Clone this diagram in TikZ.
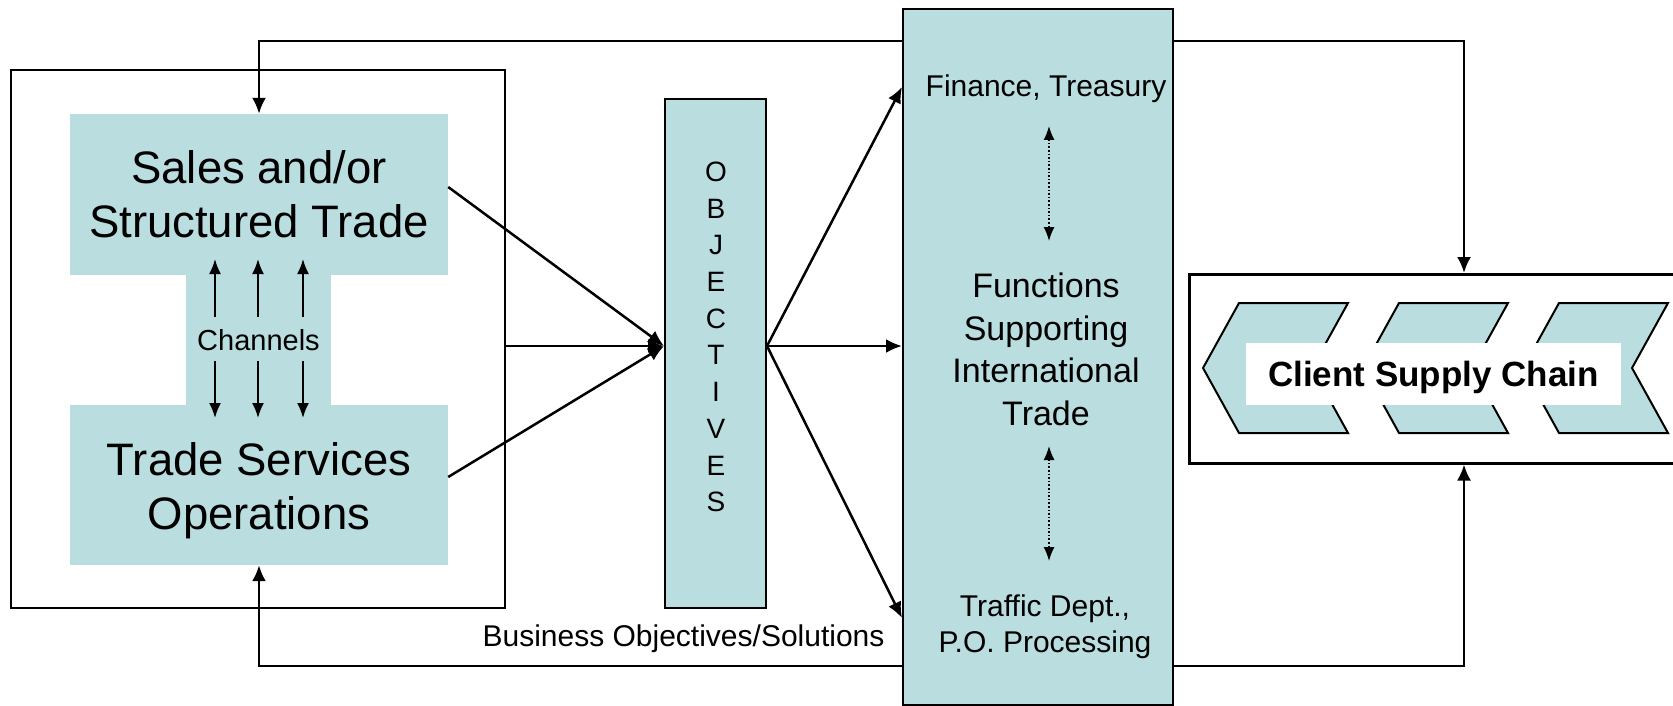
\documentclass[tikz,border=0pt]{standalone}
\usepackage{fontspec}
\setmainfont{Liberation Sans}
\usetikzlibrary{arrows.meta}
\definecolor{paleteal}{RGB}{186,221,223}
\begin{document}
\begin{tikzpicture}[x=1pt,y=-1pt,
  fillbox/.style={fill=paleteal,draw=none,inner sep=0pt,rectangle},
  edgebox/.style={fill=paleteal,draw=black,line width=2pt,inner sep=0pt,rectangle},
  frame/.style={draw=black,line width=2.5pt,inner sep=0pt,rectangle},
  conn/.style={line width=2.5pt},
  arrowline/.style={conn,-{Latex[length=16pt,width=14pt]}},
  chanarrow/.style={line width=2pt,-{Latex[length=15pt,width=12pt]}},
  dotarrow/.style={line width=1.6pt,dotted,{Latex[length=14pt,width=11pt]}-{Latex[length=14pt,width=11pt]}},
  chev/.style={fill=paleteal,draw=black,line width=2pt,line join=miter},
  bigtext/.style={font=\fontsize{45.5}{54}\selectfont,align=center},
  midtext/.style={font=\fontsize{34}{42.5}\selectfont,align=center},
  smalltext/.style={font=\fontsize{30}{36}\selectfont,align=center},
]
\useasboundingbox (0,0) rectangle (1673,706);
\clip (0,0) rectangle (1673,706);
\fill[white] (0,0) rectangle (1673,706);

% helper rows and columns for the loops
\coordinate (ytop) at (0,41);
\coordinate (ybot) at (0,666);
\coordinate (ymid) at (0,346);
\coordinate (xloop) at (1464,0);

% left block: sales / channels / operations
\node[frame,minimum width=494pt,minimum height=538pt] (outer) at (258,339) {};
\node[fillbox,minimum width=145pt,minimum height=134pt,font=\fontsize{29}{34}\selectfont] (chan) at (258.5,340) {Channels};
\node[fillbox,bigtext,minimum width=378pt,minimum height=161pt] (sales) at (259,194.5) {Sales and/or\\Structured Trade};
\node[fillbox,minimum width=378pt,minimum height=160pt] (tso) at (259,485) {};
\node[bigtext] (tsotext) at (259,490.5) {Trade Services\\Operations};

\foreach \dx in {-43.5,-0.5,44.5} {
  \draw[chanarrow] ([xshift=\dx pt,yshift=23pt]chan.center) -- ([xshift=\dx pt,yshift=81pt]chan.center);
  \draw[chanarrow] ([xshift=\dx pt,yshift=-21pt]chan.center) -- ([xshift=\dx pt,yshift=-78pt]chan.center);
}

% objectives column
\node[edgebox,minimum width=101pt,minimum height=509pt] (obj) at (715.5,353.5) {};
\node[font=\fontsize{28}{36.7}\selectfont,align=center] (objtxt) at (716,337) {O\\B\\J\\E\\C\\T\\I\\V\\E\\S};

% supporting functions column
\node[edgebox,minimum width=270pt,minimum height=696pt] (fs) at (1038,357) {};
\node[smalltext,anchor=base] (fin) at (1046,97) {Finance, Treasury};
\node[midtext] (func) at (1046,349.5) {Functions\\Supporting\\International\\Trade};
\node[smalltext] (traffic) at (1045,627) {Traffic Dept.,\\P.O. Processing};

\coordinate (d1) at (1049,126);
\coordinate (d2) at (1049,241);
\coordinate (d3) at (1049,446);
\coordinate (d4) at (1049,561);
\draw[dotarrow] (d1) -- (d2);
\draw[dotarrow] (d3) -- (d4);

\node[smalltext,anchor=base east] (bos) at (888,646) {Business Objectives/Solutions};

% client supply chain
\node[frame,minimum width=600pt,minimum height=189pt,anchor=north west] (csc) at (1188,273) {};
\foreach \i in {0,1,2} {
  \draw[chev,xshift={\i*160pt}] (1239,303) -- (1348,303) -- (1312,368) -- (1348,433) -- (1239,433) -- (1203,368) -- cycle;
}
\node[fill=white,inner sep=0pt,minimum width=375pt,minimum height=62pt,text height=25pt,text depth=0pt,
      font=\bfseries\fontsize{35}{42}\selectfont] (cscl) at (1433.5,374) {Client Supply Chain};

% feedback loops
\draw[arrowline] (ytop -| fs.west) -| (sales.north);
\draw[arrowline] (ybot -| fs.west) -| (tso.south);
\draw[arrowline] (ytop -| fs.east) -| (xloop |- csc.north);
\draw[arrowline] (ybot -| fs.east) -| (xloop |- csc.south);

% into the objectives
\draw[arrowline] (ymid -| outer.east) -- (ymid -| obj.west);
\draw[arrowline] ([yshift=7.5pt]sales.east) -- (ymid -| obj.west);
\draw[arrowline] ([yshift=8pt]tso.east) -- (ymid -| obj.west);

% out of the objectives
\draw[arrowline] (ymid -| obj.east) -- (ymid -| fs.west);
\draw[arrowline] (ymid -| obj.east) -- ([yshift=270pt]fs.west);
\draw[arrowline] (ymid -| obj.east) -- ([yshift=-261pt]fs.west);
\end{tikzpicture}
\end{document}
